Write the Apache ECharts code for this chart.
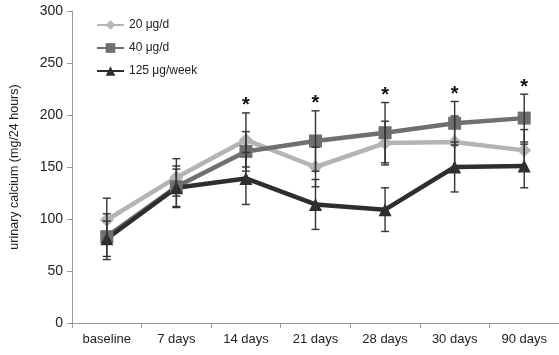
<!DOCTYPE html>
<html>
<head>
<meta charset="utf-8">
<script src="https://cdn.jsdelivr.net/npm/echarts@6/dist/echarts.min.js"></script>
<style>html,body{margin:0;padding:0;background:#fff}#c{width:559px;height:355px}</style>
</head>
<body>
<div id="c"></div>
<script>
var categories = ['baseline','7 days','14 days','21 days','28 days','30 days','90 days'];
var yTicks = [0,50,100,150,200,250,300];
var seriesNames = ['20 \u03bcg/d','40 \u03bcg/d','125 \u03bcg/week'];
var s20 = [99, 140, 176, 150, 173, 174, 166];
var s40 = [83, 131, 165, 175, 183, 192, 197];
var s125 = [81, 130, 139, 114, 109, 150, 151];
var err20 = [21, 18, 26, 19, 21, 25, 20];
var err40 = [22, 20, 19, 29, 29, 21, 23];
var err125 = [17, 18, 25, 24, 21, 24, 21];
var significant = [false, false, true, true, true, true, true];

var colors = ['#b4b4b4','#6f6f6f','#2e2e2e'];
var FONT = 'Liberation Sans';

function errData(vals, errs){
  return vals.map(function(v,i){ return [i, v - errs[i], v + errs[i]]; });
}
function errSeries(vals, errs){
  return {
    type:'custom', z:5, silent:true,
    renderItem:function(params, api){
      var x = api.value(0);
      var lo = api.coord([x, api.value(1)]);
      var hi = api.coord([x, api.value(2)]);
      var hw = 4;
      var st = {stroke:'#333333', lineWidth:1.4};
      return {type:'group', children:[
        {type:'line', shape:{x1:lo[0],y1:lo[1],x2:hi[0],y2:hi[1]}, style:st},
        {type:'line', shape:{x1:lo[0]-hw,y1:lo[1],x2:lo[0]+hw,y2:lo[1]}, style:st},
        {type:'line', shape:{x1:hi[0]-hw,y1:hi[1],x2:hi[0]+hw,y2:hi[1]}, style:st}
      ]};
    },
    data: errData(vals, errs)
  };
}
var starData = [];
for (var i=0;i<categories.length;i++){
  if (significant[i]) {
    starData.push([i, Math.max(s20[i]+err20[i], s40[i]+err40[i], s125[i]+err125[i])]);
  }
}
function lineSeries(name, data, symbol, color, size){
  return {name:name, type:'line', data:data, symbol:symbol, symbolSize:size,
    lineStyle:{width:4.5, color:color}, itemStyle:{color:color}, z:3};
}
var chart = echarts.init(document.getElementById('c'), null, {renderer:'canvas'});
chart.setOption({
  animation:false,
  textStyle:{fontFamily:FONT},
  grid:{left:72, top:11, bottom:32, width:492},
  legend:{
    orient:'vertical', left:91, top:14, itemGap:11, itemWidth:27, itemHeight:12,
    textStyle:{fontFamily:FONT, fontSize:12, color:'#222'},
    data:seriesNames
  },
  xAxis:{
    type:'category', data:categories, boundaryGap:true,
    axisLine:{lineStyle:{color:'#9a9a9a', width:1}},
    axisTick:{show:true, length:5, lineStyle:{color:'#9a9a9a'}, alignWithLabel:false},
    axisLabel:{fontFamily:FONT, fontSize:13, color:'#222', margin:10}
  },
  yAxis:{
    type:'value', min:yTicks[0], max:yTicks[yTicks.length-1], interval:50,
    name:'urinary calcium (mg/24 hours)', nameLocation:'middle', nameGap:51,
    nameTextStyle:{fontFamily:FONT, fontSize:12.5, color:'#222'},
    axisLine:{show:true, lineStyle:{color:'#9a9a9a'}},
    axisTick:{show:true, length:5, lineStyle:{color:'#9a9a9a'}},
    splitLine:{show:false},
    axisLabel:{fontFamily:FONT, fontSize:14, color:'#222', margin:9}
  },
  series:[
    lineSeries(seriesNames[0], s20, 'diamond', colors[0], 14),
    lineSeries(seriesNames[1], s40, 'rect', colors[1], 13),
    lineSeries(seriesNames[2], s125, 'triangle', colors[2], 13),
    errSeries(s20, err20),
    errSeries(s40, err40),
    errSeries(s125, err125),
    {type:'custom', data:starData, silent:true, z:6,
     renderItem:function(params, api){
       var p = api.coord([api.value(0), api.value(1)]);
       return {type:'text', x:p[0], y:p[1] + 3,
         style:{text:'*', fontSize:20, fontWeight:'bold', fill:'#111', fontFamily:FONT, align:'center', verticalAlign:'bottom'}};
     }}
  ]
});
</script>
</body>
</html>
